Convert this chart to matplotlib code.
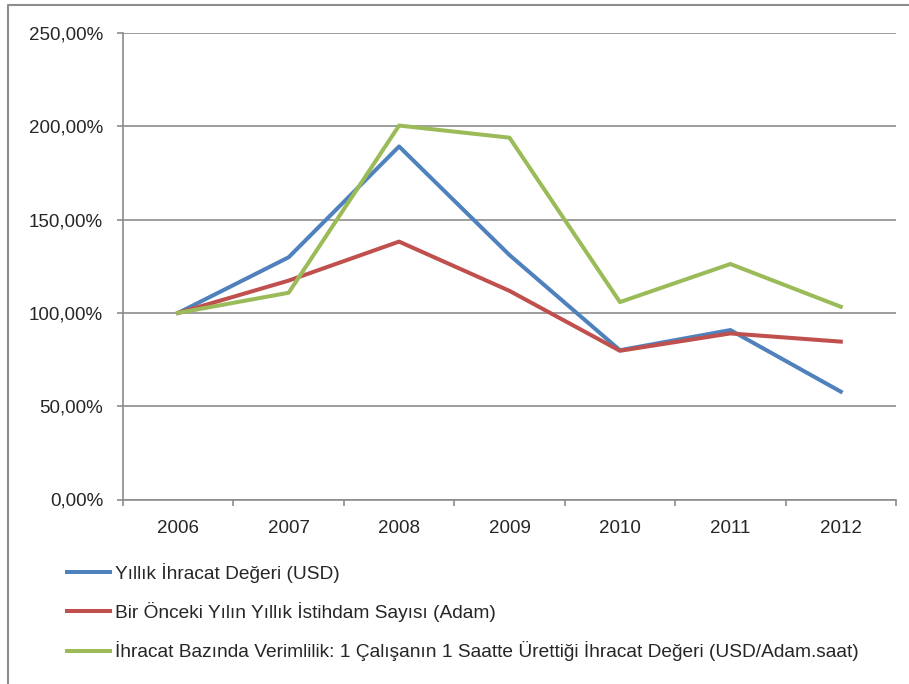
import matplotlib.pyplot as plt
from matplotlib.lines import Line2D
from matplotlib.ticker import FuncFormatter

years = ["2006", "2007", "2008", "2009", "2010", "2011", "2012"]
ihracat = [100.0, 129.8, 189.2, 131.0, 80.0, 90.8, 57.8]
istihdam = [100.0, 117.3, 138.2, 111.8, 79.7, 89.0, 84.6]
verimlilik = [100.0, 110.8, 200.4, 193.9, 105.8, 126.2, 103.3]

labels = [
    "Yıllık İhracat Değeri (USD)",
    "Bir Önceki Yılın Yıllık İstihdam Sayısı (Adam)",
    "İhracat Bazında Verimlilik: 1 Çalışanın 1 Saatte Ürettiği İhracat Değeri (USD/Adam.saat)",
]
colors = ["#4F81BD", "#C0504D", "#9BBB59"]

plt.rcParams['font.family'] = ['Liberation Sans', 'DejaVu Sans']
text_color = "#262626"
grid_color = "#8c8c8c"

W, H = 909, 684
fig = plt.figure(figsize=(W / 100, H / 100), dpi=100)
ax = fig.add_axes([123 / W, 1 - 499.5 / H, (896 - 123) / W, (499.5 - 33) / H])

x = list(range(len(years)))
lines = []
for vals, c, lab in zip([ihracat, istihdam, verimlilik], colors, labels):
    ln, = ax.plot(x, vals, color=c, lw=2.9, label=lab, zorder=3)
    lines.append(ln)

ax.set_ylim(0, 250)
ax.set_xlim(-0.5, len(years) - 0.5)
ax.set_yticks(range(0, 251, 50))
ax.yaxis.set_major_formatter(FuncFormatter(lambda v, p: f"{v:.2f}%".replace(".", ",")))
ax.grid(axis='y', color=grid_color, lw=1.2, zorder=1)

# category labels in the middle, tick marks between categories
ax.set_xticks(x)
ax.set_xticklabels(years)
ax.set_xticks([i - 0.5 for i in range(len(years) + 1)], minor=True)
ax.tick_params(axis='x', which='major', length=0, pad=15, labelsize=13.5, labelcolor=text_color)
ax.tick_params(axis='x', which='minor', length=4.3, width=1.2, color=grid_color, direction='out')
ax.tick_params(axis='y', length=4.3, width=1.2, color=grid_color, pad=10, labelsize=13.5,
               labelcolor=text_color)

for side in ['top', 'right']:
    ax.spines[side].set_visible(False)
for side in ['left', 'bottom']:
    ax.spines[side].set_color(grid_color)
    ax.spines[side].set_linewidth(1.2)

fig.legend(handles=lines, loc='upper left', bbox_to_anchor=(67 / W, 1 - 563 / H),
           frameon=False, fontsize=13.8, handlelength=2.24, handletextpad=0.26,
           labelspacing=1.0, labelcolor=text_color, borderaxespad=0, borderpad=0)

# outer chart border
fig.add_artist(Line2D([8 / W, 8 / W, 1.0], [0.0, 1 - 5 / H, 1 - 5 / H],
                      transform=fig.transFigure, color="#8c8c8c", lw=1.5))

fig.savefig("out.png", dpi=100)
